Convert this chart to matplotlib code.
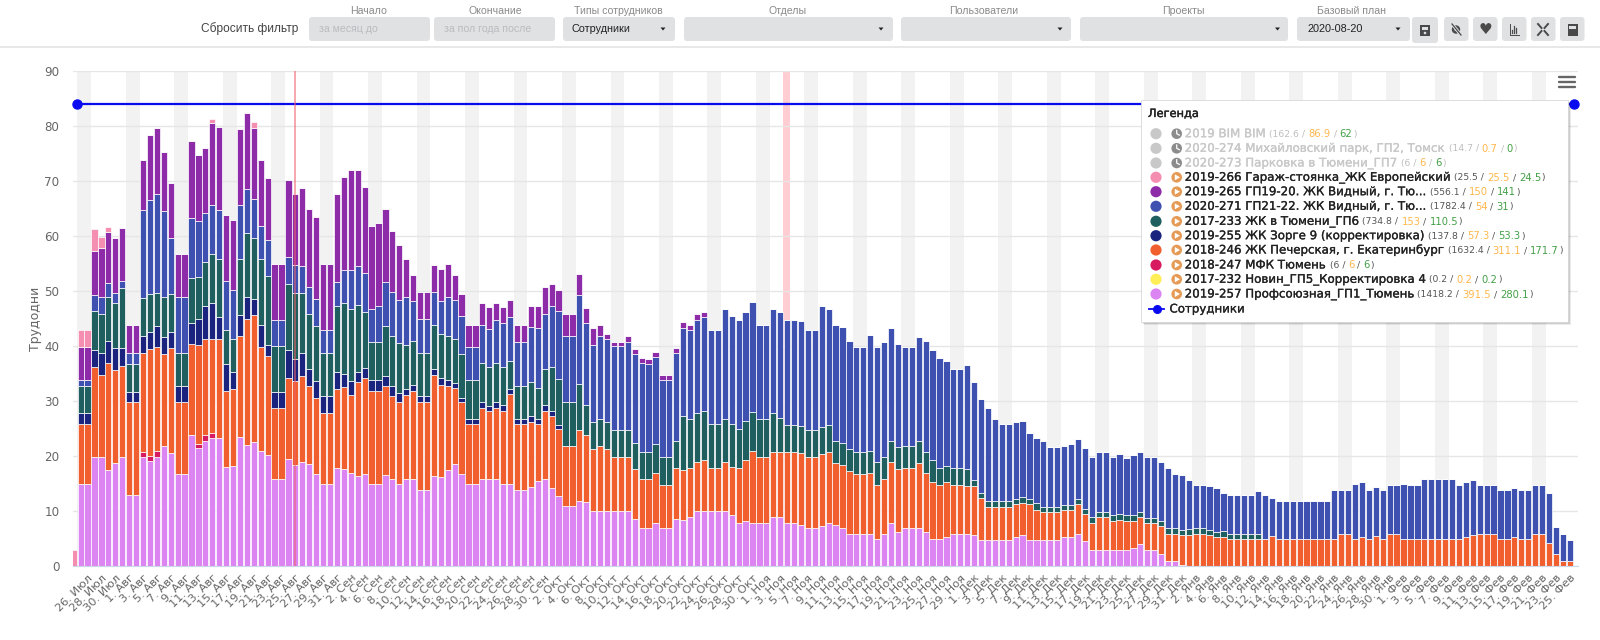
#!/usr/bin/python3
# -*- coding: utf-8 -*-
# График загрузки сотрудников по проектам (трудодни)
import datetime
import numpy as np
import matplotlib
matplotlib.use("Agg")
import matplotlib.pyplot as plt
import matplotlib.patheffects as pe
from matplotlib.patches import Circle, FancyBboxPatch, Polygon, Rectangle

W, H = 1600, 640

# значения по дням, первый столбец = 24 июля, по 10 в строке
lilac = [0,15,15,19.8,19.8,17.5,18.8,19.8,13,13,
    19.8,19.1,19.8,21.9,20.5,16.8,16.8,23.8,21.4,22.8,
    23.2,23.3,18,18.2,23.5,22,22.5,21,20.1,15.9,
    15.9,19.5,18.3,19,18.5,16.7,15,15,17.9,17.6,
    17,16.3,16.8,15,15,16.5,15.9,15,15.9,15.9,
    13.9,13.9,16.3,16.1,17.5,18.5,16.8,15,15,15.9,
    15.9,15.9,15,15,13.8,13.8,14.4,15.4,15.9,14.1,
    12.8,10.9,10.9,11.9,11.6,10,10,10,10,10,
    10,8.6,7,7,7.8,7,7,8.5,8.4,8.9,
    10,10,10,10,10,9.2,7.8,8.2,7.8,7.8,
    7.8,8.9,8.9,7.8,7.8,7.5,7,7,7.3,7.8,
    7.5,7,5.9,5.9,5.9,5.9,4.9,5.9,7.8,6.2,
    7,7,7,6.1,4.9,4.9,5.3,5.9,5.9,5.9,
    5.6,4.8,4.8,4.8,4.8,4.8,5.2,5.6,4.8,4.8,
    4.8,4.8,4.8,5.2,5.2,5.9,4.5,2.9,2.9,2.9,
    3,3,3,3.2,4,2.9,2.9,2.2,1,1,
    0.2] + [0] * 56
crimson = [0] * 10 + [1,0.9,1.2,0,0,0,0,0,0.7,1.1] + [1] + [0] * 196
orange = [0,10.8,10.8,16.3,15,19.4,16.9,16.5,16.9,16.9,
    17.9,19.4,18.8,16.6,19.1,13.1,13.1,16.5,18,17.3,
    17.1,17.9,13.8,14,18.3,22.9,23.1,18.9,18,12.9,
    12.9,14.6,15.4,15.6,14.2,13.9,12.9,12.9,14.3,14.9,
    14.1,17.1,17.3,16.8,16.8,16.2,15.1,14.9,15.2,16,
    16,16,18.5,16.9,15.3,13.8,13,10.8,10.8,12.9,
    12.2,12.9,13.2,16.3,12,12,11.8,10.4,12.3,13.1,
    12.1,11,11,12.9,12.2,11.3,11.9,11.3,9.9,9.9,
    9.9,9,8.9,8.8,9.2,7.8,7.8,9.3,9,9,
    8.9,9.3,7.9,7.9,8.9,8.8,10.1,11.1,13.2,12,
    12,11.9,11.9,13,13,13.1,12.8,12.8,13,13,
    11.2,11.4,11.3,10.9,10.9,11.1,9.9,10,11.2,11.4,
    10.9,10.9,11.8,10.9,10.3,9.9,9.9,8.9,8.9,8.6,
    8.9,7.6,6,6,6,6,6,5.9,6.4,5.4,
    5.1,5.1,5.1,5,5,5.3,5,5,6,6,
    5.1,5.4,5.2,5,5,5,5,5,4.9,4.9,
    5.4,5.6,5.9,5.9,5.6,5.2,5.3,4.9,4.9,4.9,
    4.9,4.9,4.9,5.4,4.9,4.9,4.9,4.9,4.9,4.9,
    4.9,4.9,5,5.9,5.9,5,5.2,4.9,5.4,5,
    5.9,5.9,5,4.9,4.9,4.9,4.9,4.9,4.9,4.9,
    4.9,5.2,5.7,5.9,5.9,5.9,5,4.9,5.2,4.9,
    5,5.9,5.9,4.2,2.1,0.9,0.9]
navy = [0,2.1,2.1,3.1,4,4.1,4,3.4,1.8,1.8,
    3.1,3.1,3.8,3.1,3,2.9,2.9,3.8,4.9,6,
    6.5,4,5,3,3.9,4,2.9,3.9,2,2.9,
    2.9,5.1,3.9,4.1,3.2,3,3,3,3,2.5,
    2.6,1.9,1.9,2.1,2.1,1.9,1.8,1.6,1,1.1,
    1,1,1.1,1.1,1.1,.9,.7,1,1,1.1,
    1,1.1,1,.9,1,1,1.1,1,1.1,1,
    0.8] + [0] * 146
teal = [0,4.9,4.9,7.1,7.1,7.9,8.1,10.8,5.1,5.1,
    7,7,6,7.3,6.9,6,6,8.2,7.6,8,
    8.9,10.6,6.1,6,10.2,11.7,11.2,12,12.7,8.3,
    8.3,12,12,11,9.9,10,7.9,7.9,12,12.9,
    13.1,12.1,10.1,6.9,6.9,9,9.1,9,8,8,
    7.9,7.9,7.9,8,8,8.1,8.1,7.1,7.1,7,
    7,7.1,7,5.1,6,6,6.1,5.5,6.6,8,
    8.3,8,8,8.3,5.4,4.8,4.9,4.8,4.9,4.9,
    4.9,4.8,4.9,4.9,5.1,5,5,5,9.9,8.9,
    9,8.9,8,8,7.9,7.9,7,7,7,7,
    7,7.1,6.2,4.9,4.9,4.9,5,5,4.9,4.9,
    4.1,4,4,4,4,4,4.2,4,3.8,4,
    4,4,4,3.8,4.1,3.1,3,3.1,3.1,3.1,
    1.1,.9,1.1,1.1,1.1,1.1,1,1.1,1,1.2,
    .9,.9,.9,.9,.9,1,.9,1.1,1,1,
    1.1,1.1,1,1,.9,.9,.9,.9,1,1,
    .9,1.1,1,1,.9,1,1.1,1,1,1,
    1,1] + [0] * 45
blue = [0,1.1,1.1,3,3,2.5,1.9,1.4,2,2,
    16,17,18,15.6,10.1,10.2,10.2,10.9,10.2,8.9,
    9,9,9,9,9.7,7.9,7.1,6,6.4,4.8,
    4.8,4.9,5.2,4.9,4.9,5,4.1,4.1,4.5,6,
    7,7.1,7.1,6,6.5,8.1,7.9,7.9,8.9,7.1,
    6.1,6.1,6,6,7.1,7,6.9,6,6,6.9,
    7,7.7,8,8,8,8,10.1,10.9,10,11,
    12.3,12,12,16.1,14.9,14.1,15.1,15.1,15.2,15.2,
    16,16.1,16.2,16,15.9,14.1,14.1,15.9,15.9,16.1,
    16.9,17,17,17,19.9,19.6,19.9,19.9,20,17,
    17,18.8,19.1,19.1,19.1,19.1,18.1,18.1,22.1,21,
    21,21,19.8,19.1,19.1,21,20.9,20.8,20.4,18.8,
    18,18,18.8,20.1,19.9,19.9,19.1,18,18,18.9,
    17.9,17.1,16.8,14.9,13.9,13.9,13.9,13.8,11.9,11.8,
    11.9,10.9,10.9,10.7,11.1,10.9,11.1,10.9,10.9,10.9,
    10.7,10.8,10.4,10.9,10.9,11,11,10.9,10.9,9.8,
    10,8.9,7.9,7.9,8.1,7.9,6.8,7,7,7,
    7,7.8,8,6.9,6.9,6.9,6.9,6.9,6.9,6.9,
    6.9,6.9,8.9,7.9,7.9,10,10,8.9,8.9,8.9,
    8.9,8.9,10,9.9,9.9,10.9,10.9,10.9,10.9,10.9,
    9.9,10,9.9,8.9,8.9,8.9,8.9,8.9,8.9,8.9,
    8.9,8.9,8.9,9,5,4.9,3.8]
purple = [0,6,6,7.9,9,9.3,10,9.5,5,5,
    9,11.9,12,10.8,10,7.8,7.8,14.1,11.9,11.9,
    14.9,15,12,12.8,13.9,13.9,12.8,12,11.3,10.1,
    10.1,14,12.8,14.1,14.2,14.9,12,12,15.9,16.9,
    18.2,17.5,15.8,15,15,13.2,11.1,10,6.9,4.8,
    4.9,4.9,4.9,5.9,5.9,4.6,4,3.9,3.9,4,
    4,3.1,2.9,3,3,3,3.8,4.1,4.9,4,
    3.9,4,4,3.9,2.9,3,1.9,1,.8,.8,
    1,.9,.8,.9,1,.8,.8,.9,1.1,.9,
    1.1,1] + [0] * 125
pink = [3,3,3,4.1,1.9,.9] + [0] * 14 + [.6] + [0] * 5 + [1.1] + [0] * 190
staff_limit = 84

month_names = ["Янв", "Фев", "Мар", "Апр", "Май", "Июн", "Июл", "Авг", "Сен", "Окт", "Ноя", "Дек"]
first_day = datetime.date(2020, 7, 24)

# порядок снизу вверх
stack = [(lilac, "#DC85F2"), (crimson, "#D81B60"), (orange, "#F25F2E"), (navy, "#1A237E"),
         (teal, "#205F5F"), (blue, "#3F51B0"), (purple, "#8E2BA8"), (pink, "#F48FB1")]

legend_rows = [
    ("2019 BIM BIM", "162.6", "86.9", "62", "#C8C8C8", False),
    ("2020-274 Михайловский парк, ГП2, Томск", "14.7", "0.7", "0", "#C8C8C8", False),
    ("2020-273 Парковка в Тюмени_ГП7", "6", "6", "6", "#C8C8C8", False),
    ("2019-266 Гараж-стоянка_ЖК Европейский", "25.5", "25.5", "24.5", "#F48FB1", True),
    ("2019-265 ГП19-20. ЖК Видный, г. Тю...", "556.1", "150", "141", "#8E2BA8", True),
    ("2020-271 ГП21-22. ЖК Видный, г. Тю...", "1782.4", "54", "31", "#3F51B0", True),
    ("2017-233 ЖК в Тюмени_ГП6", "734.8", "153", "110.5", "#205F5F", True),
    ("2019-255 ЖК Зорге 9 (корректировка)", "137.8", "57.3", "53.3", "#1A237E", True),
    ("2018-246 ЖК Печерская, г. Екатеринбург", "1632.4", "311.1", "171.7", "#F25F2E", True),
    ("2018-247 МФК Тюмень", "6", "6", "6", "#D81B60", True),
    ("2017-232 Новин_ГП5_Корректировка 4", "0.2", "0.2", "0.2", "#FFEE58", True),
    ("2019-257 Профсоюзная_ГП1_Тюмень", "1418.2", "391.5", "280.1", "#DC85F2", True),
]

plt.rcParams['font.family'] = ['DejaVu Sans']
fig = plt.figure(figsize=(W / 100, H / 100), dpi=100, facecolor="white")

# оси графика, положение в пикселях
px_left, px_right, px_top, px_bottom = 73.3, 1577.7, 71.0, 566.0
ax = fig.add_axes([px_left / W, 1 - px_bottom / H, (px_right - px_left) / W, (px_bottom - px_top) / H])
day_px = 6.926
ax.set_xlim((px_left - 73.74) / day_px, (px_right - 73.74) / day_px)
ax.set_ylim(0, 90)

days = np.arange(len(lilac))

# выходные
for d in range(1, 213, 7):
    ax.axvspan(d - 0.5, d + 1.5, color="#F2F2F2", lw=0, zorder=0)
ax.axvspan(102.45, 103.45, color="#FFCDD2", lw=0, zorder=0.3)

ax.set_yticks(np.arange(0, 91, 10))
ax.set_axisbelow(True)
ax.grid(axis="y", color="#E6E6E6", lw=1)

bottom = np.zeros(len(days))
for values, color in stack:
    values = np.array(values, dtype=float)
    ax.bar(days, values, 0.9, bottom=bottom, color=color, edgecolor="white", linewidth=0.5, zorder=2)
    bottom += values

ax.plot([0.43, 216.57], [staff_limit, staff_limit], color="#0A0AF0", lw=1.6, marker="o", ms=6.5,
        clip_on=False, zorder=3)
ax.axvline(32, color="#F0606A", alpha=0.7, lw=1.1, zorder=4)

ticks = np.arange(2, 217, 2)
labels = []
for t in ticks:
    day = first_day + datetime.timedelta(days=int(t))
    labels.append("%d. %s" % (day.day, month_names[day.month - 1]))
ax.set_xticks(ticks)
ax.set_xticklabels(labels, rotation=45, ha="right", va="top", rotation_mode="anchor", fontsize=8.2, color="#666666")
ax.tick_params(axis="x", length=0, pad=5)
ax.tick_params(axis="y", length=0, pad=10, labelsize=8.6, labelcolor="#666666")
for s in ["top", "left", "right"]:
    ax.spines[s].set_visible(False)
ax.spines["bottom"].set_color("#CCD6EB")
ax.set_ylabel("Трудодни", fontsize=9, color="#666666", labelpad=0)
ax.yaxis.set_label_coords((41.5 - px_left) / (px_right - px_left), 0.5)

# всё остальное в координатах картинки
ui = fig.add_axes([0, 0, 1, 1], facecolor="none")
ui.set_xlim(0, W)
ui.set_ylim(H, 0)
ui.axis("off")

# шапка с фильтрами
ui.plot([0, W], [47, 47], color="#E8E8E8", lw=1.4)


def box(x0, x1, y0=17, y1=41, color="#E0E1E3"):
    ui.add_patch(FancyBboxPatch((x0, y0), x1 - x0, y1 - y0, boxstyle="round,pad=0,rounding_size=3",
                                fc=color, ec="none"))


def caret(x, y=29):
    ui.add_patch(Polygon([[x - 2.5, y - 1.5], [x + 2.5, y - 1.5], [x, y + 1.5]], fc="#222222", ec="none"))


head_font = ["Liberation Sans", "DejaVu Sans"]
ui.text(298, 29, "Сбросить фильтр", ha="right", va="center", fontsize=8.6, color="#444444", family=head_font)
box(309, 430)
box(434, 555)
ui.text(319, 29.5, "за месяц до", va="center", fontsize=7.6, color="#B9BCC0", family=head_font)
ui.text(444, 29.5, "за пол года после", va="center", fontsize=7.6, color="#B9BCC0", family=head_font)
for x0, x1, cx in [(563, 675, 663), (684, 893, 881), (901, 1071, 1060), (1080, 1288, 1277.5), (1297, 1410, 1398)]:
    box(x0, x1)
    caret(cx)
ui.text(572, 29.5, "Сотрудники", va="center", fontsize=7.8, color="#222222", family=head_font)
ui.text(1308, 29.5, "2020-08-20", va="center", fontsize=7.8, color="#222222", family=head_font)
for cx, name in [(369, "Начало"), (495, "Окончание"), (618, "Типы сотрудников"), (788, "Отделы"),
                 (984, "Пользователи"), (1183, "Проекты"), (1351.5, "Базовый план")]:
    ui.text(cx, 10.5, name, ha="center", va="center", fontsize=7.6, color="#8A8A8A", family=head_font)

# кнопки справа
box(1412, 1438, 17, 43)
for x0 in [1444, 1473, 1502, 1531, 1560]:
    box(x0, x0 + 24.5)
icon = "#4A4A4A"
ui.add_patch(Rectangle((1420, 25), 10, 11, fc=icon, ec="none"))
ui.add_patch(Rectangle((1422, 26.5), 6, 3, fc="#E0E1E3", ec="none"))
ui.add_patch(Circle((1425, 33), 1.3, fc="#E0E1E3", ec="none"))
ui.add_patch(Circle((1456, 29.5), 4.2, fc=icon, ec="none"))
ui.add_patch(Circle((1456, 29.5), 1.6, fc="#E0E1E3", ec="none"))
ui.plot([1452, 1461], [24, 35], color="#E0E1E3", lw=2.2)
ui.plot([1452, 1461], [24, 35], color=icon, lw=0.9)
ui.text(1485, 29, "\u2665", ha="center", va="center", fontsize=11, color=icon)
ui.plot([1509.5, 1509.5, 1519], [23.5, 34.5, 34.5], color=icon, lw=0.7)
for bx, by in [(1512, 30), (1514, 26), (1516, 28)]:
    ui.plot([bx, bx], [by, 33], color=icon, lw=0.9)
for sx, sy in [(-1, -1), (1, -1), (-1, 1), (1, 1)]:
    ui.plot([1543 + sx * 1.5, 1543 + sx * 5], [29.5 + sy * 1.5, 29.5 + sy * 5.5], color=icon, lw=1.4)
ui.add_patch(Rectangle((1567.5, 24), 10, 12, fc=icon, ec="none"))
ui.add_patch(Rectangle((1569, 26), 7, 2.5, fc="#E0E1E3", ec="none"))

# кнопка меню графика
for y in [76.7, 81.8, 87]:
    ui.plot([1559, 1575], [y, y], color="#666666", lw=1.7, solid_capstyle="round")

# легенда
for off, alpha in [(3, 0.08), (2, 0.12), (1, 0.18)]:
    ui.add_patch(Rectangle((1141 + off, 99.5 + off), 427, 222, fc="#000000", ec="none", alpha=alpha, zorder=5))
ui.add_patch(Rectangle((1141, 99.5), 427, 222, fc="white", ec="#D8D8D8", lw=0.6, zorder=6))
ui.text(1148, 114, "Легенда", fontsize=8.2, va="center", color="#222222", zorder=7,
        path_effects=[pe.withStroke(linewidth=0.3, foreground="#222222")])

renderer = fig.canvas.get_renderer()
row_y = [133.7, 148.3, 163, 177.3, 191.7, 206.3, 221.3, 235.7, 250, 265, 279.3, 294]


def put(x, y, s, color, size, bold=False):
    effects = [pe.withStroke(linewidth=0.2, foreground=color)] if bold else None
    t = ui.text(x, y, s, fontsize=size, color=color, va="center", zorder=7, path_effects=effects)
    return x + t.get_window_extent(renderer).width


for row, y in zip(legend_rows, row_y):
    name, total, plan, fact, color, active = row
    ui.add_patch(Circle((1156, y), 5.6, fc=color, ec="none", zorder=7))
    ic = "#E59A55" if active else "#8C8C8C"
    ui.add_patch(Circle((1176.7, y), 5.3, fc=ic, ec="none", zorder=7))
    if active:
        ui.add_patch(Polygon([[1174.8, y - 3], [1174.8, y + 3], [1180, y]], fc="white", ec="none", zorder=8))
    else:
        ui.plot([1176.7, 1176.7, 1179.3], [y - 3.3, y, y + 1.4], color="white", lw=0.9, zorder=8)
    x = put(1184.7, y, name, "#222222" if active else "#C8C8C8", 8.5, True)
    small = 6.7
    grey = "#555555" if active else "#BEBEBE"
    x = put(x + 4, y + 0.5, "(" + total + " /", grey, small)
    x = put(x + 3, y + 0.5, plan, "#FFB74D", small + 0.5)
    x = put(x + 3, y + 0.5, "/", grey, small)
    x = put(x + 3, y + 0.5, fact, "#43A047", small + 0.5)
    put(x + 0.5, y + 0.5, ")", grey, small)

ui.plot([1149, 1164], [309, 309], color="#0A0AF0", lw=1.3, zorder=7)
ui.plot([1156.5], [309], color="#0A0AF0", marker="o", ms=5.5, zorder=7)
put(1169.5, 309, "Сотрудники", "#222222", 8.5, True)

fig.savefig("out.png", dpi=100)
